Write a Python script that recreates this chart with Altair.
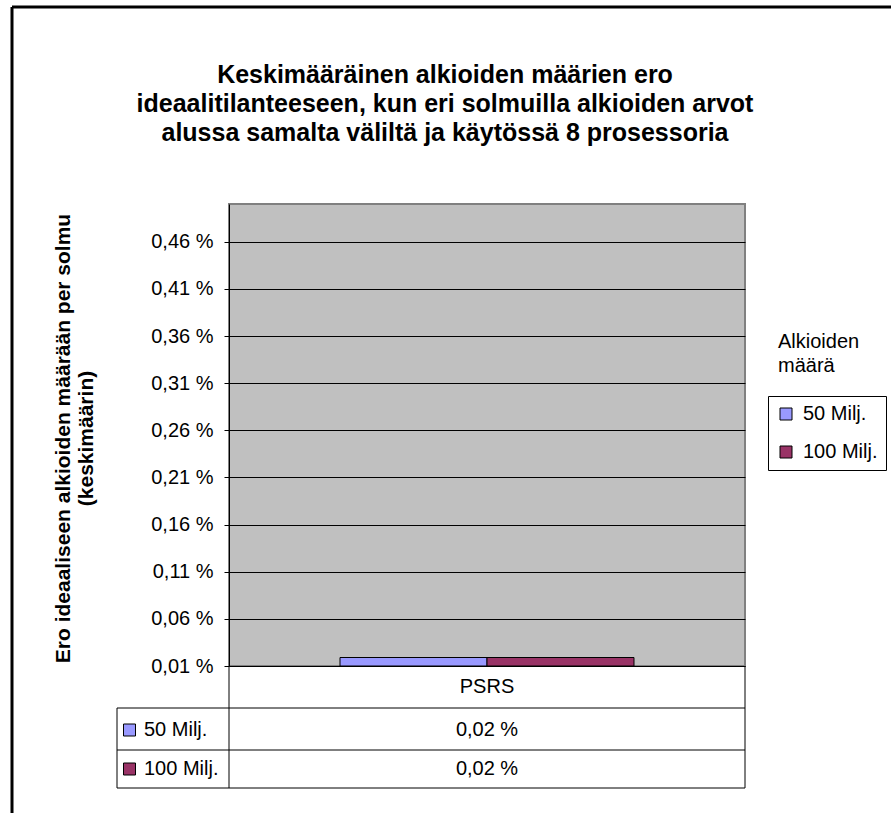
import altair as alt
import pandas as pd

# ---- data ----
categories = ["PSRS"]
series = ["50 Milj.", "100 Milj."]
values = [0.019, 0.019]  # percent
tick_values = [0.01, 0.06, 0.11, 0.16, 0.21, 0.26, 0.31, 0.36, 0.41, 0.46]
colors = ["#9999FF", "#993366"]
title_lines = [
    "Keskimääräinen alkioiden määrien ero",
    "ideaalitilanteeseen, kun eri solmuilla alkioiden arvot",
    "alussa samalta väliltä ja käytössä 8 prosessoria",
]
y_title = ["Ero ideaaliseen alkioiden määrään per solmu", "(keskimäärin)"]
legend_title = "Alkioiden\nmäärä"

df = pd.DataFrame({
    "category": [categories[0]] * len(series),
    "series": series,
    "value": values,
})

W, H = 516, 462
FONT = "Liberation Sans"
FS = 20
PCT = "replace(format(datum.value, '.2f'), '.', ',') + ' %'"

color = alt.Color(
    "series:N",
    scale=alt.Scale(domain=series, range=colors),
    legend=alt.Legend(
        title=None, orient="none", legendX=539, legendY=192,
        strokeColor="black", fillColor="white", padding=8,
        symbolType="square", symbolSize=144, symbolStrokeColor="black",
        symbolStrokeWidth=1, symbolOpacity=1,
        labelFontSize=FS, labelFont=FONT, labelColor="black",
        rowPadding=18, labelOffset=7,
    ),
)

xenc = alt.X(
    "category:N",
    scale=alt.Scale(domain=categories, paddingInner=0, paddingOuter=0.3776),
    axis=alt.Axis(title=None, labelAngle=0, domain=False, ticks=False,
                  labelFontSize=FS, labelPadding=10, labelFont=FONT,
                  labelColor="black"),
)

one = pd.DataFrame({"k": [0]})

plot_bg = alt.Chart(one).mark_rect(
    fill="#C0C0C0", stroke="#808080", strokeWidth=2
).encode(x=alt.value(0), x2=alt.value(W), y=alt.value(0), y2=alt.value(H))

bars = alt.Chart(df).mark_bar(stroke="black", strokeWidth=1, opacity=1).encode(
    x=xenc,
    xOffset=alt.XOffset("series:N", scale=alt.Scale(domain=series, paddingInner=0, paddingOuter=0)),
    y=alt.Y(
        "value:Q",
        scale=alt.Scale(domain=[0.01, 0.50], zero=False, nice=False),
        axis=alt.Axis(
            values=tick_values, labelExpr=PCT, grid=True, gridColor="black",
            gridOpacity=1, gridWidth=1, domainColor="black", tickColor="black",
            tickSize=5, labelPadding=11, labelFontSize=FS, labelFont=FONT,
            labelColor="black", title=y_title, titleFontSize=21,
            titleFont=FONT, titleFontWeight="bold", titleColor="black",
            titleAngle=-90, titleX=-166, titleY=234, titleAlign="center",
            titleBaseline="middle", titleLineHeight=23, zindex=1,
        ),
    ),
    y2=alt.datum(0.01),
    color=color,
)


def rule(x, y, x2=None, y2=None, w=1, c="black"):
    enc = {"x": alt.value(x), "y": alt.value(y)}
    if x2 is not None:
        enc["x2"] = alt.value(x2)
    if y2 is not None:
        enc["y2"] = alt.value(y2)
    return alt.Chart(one).mark_rule(color=c, strokeWidth=w).encode(**enc)


# table grid
table_rules = [
    rule(-112, 504, x2=W), rule(-112, 546, x2=W), rule(-112, 584, x2=W),
    rule(-112, 504, y2=584), rule(0, H, y2=584), rule(W, H, y2=584),
]
# outer chart border
border = [rule(-217, -197, x2=900, w=3), rule(-217, -197, y2=900, w=3)]

row_y = alt.Y(
    "series:N",
    scale=alt.Scale(type="point", domain=series, range=[526, 565], padding=0),
    axis=None,
)

table_syms = alt.Chart(df).mark_point(
    shape="square", filled=True, size=144, stroke="black", strokeWidth=1, opacity=1
).encode(x=alt.value(-99.5), y=row_y, color=color)

table_labels = alt.Chart(df).mark_text(
    align="left", baseline="middle", fontSize=FS, font=FONT, color="black"
).encode(x=alt.value(-85), y=row_y, text="series:N")

table_vals = alt.Chart(df).transform_calculate(
    lab=PCT
).mark_text(
    align="center", baseline="middle", fontSize=FS, font=FONT, color="black"
).encode(x=xenc, y=row_y, text="lab:N")

leg_title = alt.Chart(pd.DataFrame({"t": [legend_title]})).mark_text(
    align="left", baseline="middle", fontSize=FS, font=FONT, color="black",
    lineBreak="\n", lineHeight=24,
).encode(x=alt.value(549), y=alt.value(138), text="t:N")

chart = alt.layer(
    plot_bg, bars, table_syms, table_labels, table_vals, leg_title,
    *table_rules, *border
).resolve_scale(y="independent").properties(
    width=W, height=H,
    title=alt.Title(
        text=title_lines, fontSize=25, fontWeight="bold", font=FONT,
        color="black", anchor="middle", dx=-42, offset=-140, lineHeight=29,
    ),
    autosize=alt.AutoSizeParams(type="none"),
    padding={"left": 229, "top": 204, "right": 146, "bottom": 147},
).configure_view(
    strokeWidth=0
).configure(background="white")

chart.save("out.html", embed_options={"renderer": "svg", "actions": False})
